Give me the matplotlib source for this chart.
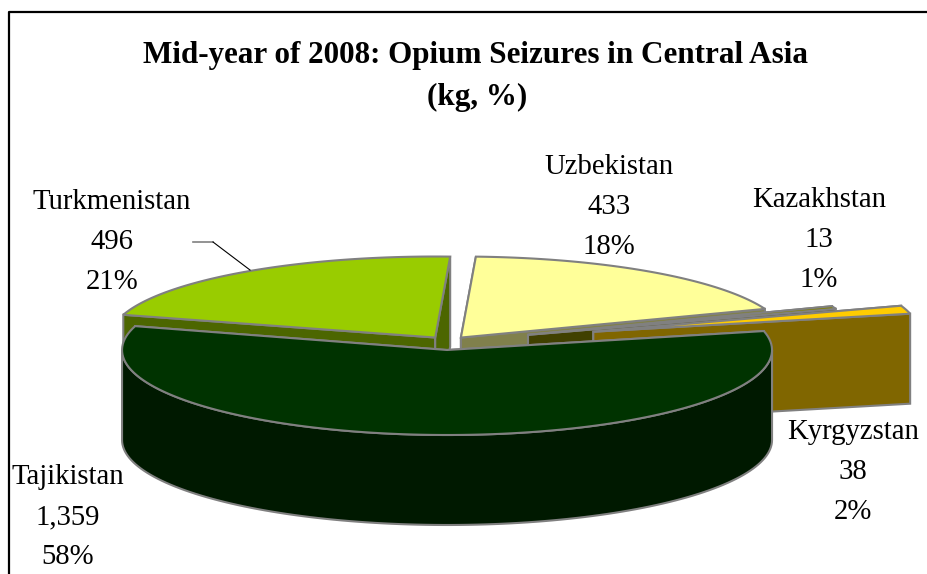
import matplotlib
matplotlib.use('Agg')
import matplotlib.pyplot as plt
from matplotlib.patches import Polygon
import numpy as np

plt.rcParams['font.family'] = ['Liberation Serif', 'DejaVu Serif']

countries = ['Turkmenistan', 'Uzbekistan', 'Kazakhstan', 'Kyrgyzstan', 'Tajikistan']
seizures = [496, 433, 13, 38, 1359]
percents = ['21%', '18%', '1%', '2%', '58%']

top_colors = ['#99CC00', '#FFFF99', '#808000', '#FFCC00', '#003300']
wall_colors = ['#4C6600', '#80804C', '#404000', '#806600', '#001900']
explode = [22, 22, 85, 151, 32]
radius_y = [81, 81, 81, 81, 85]

label_pos = [(112, 202), (609, 167), (819, 200), (853, 432), (68, 477)]

START = -73.7
CX, CY = 448, 342
RX, DEPTH = 325, 90
TILT = 0.25
EDGE = '#808080'


def on_rim(cx, cy, ry, deg):
    rad = np.radians(deg)
    return cx + RX * np.sin(rad), cy - ry * np.cos(rad)


def draw_slice(ax, start, end, push, ry, top, wall):
    mid = np.radians((start + end) / 2)
    cx = CX + push * np.sin(mid)
    cy = CY - push * np.cos(mid) * TILT
    angles = np.linspace(start, end, 120)
    rim = [on_rim(cx, cy, ry, a) for a in angles]

    # cut faces first, the top goes over them
    for a in (start, end):
        x, y = on_rim(cx, cy, ry, a)
        ax.add_patch(Polygon([(cx, cy), (x, y), (x, y + DEPTH), (cx, cy + DEPTH)],
                             fc=wall, ec=EDGE, lw=1.5))

    # outer wall, only the near part of the rim shows
    lo, hi = max(start, 90), min(end, 270)
    if lo < hi:
        front = [on_rim(cx, cy, ry, a) for a in np.linspace(lo, hi, 120)]
        low = [(x, y + DEPTH) for x, y in front[::-1]]
        ax.add_patch(Polygon(front + low, fc=wall, ec=EDGE, lw=1.5))

    ax.add_patch(Polygon([(cx, cy)] + rim, fc=top, ec=EDGE, lw=1.5))


fig = plt.figure(figsize=(9.27, 5.74), dpi=100)
ax = fig.add_axes([0, 0, 1, 1])
ax.set_xlim(0, 927)
ax.set_ylim(574, 0)
ax.axis('off')

# frame, only left and top are in the picture
ax.plot([9.5, 9.5, 927], [574, 12, 12], color='black', lw=1.6)

total = sum(seizures)
angle = START
for i, value in enumerate(seizures):
    sweep = 360 * value / total
    draw_slice(ax, angle, angle + sweep, explode[i], radius_y[i], top_colors[i], wall_colors[i])
    angle += sweep

# leader for Turkmenistan
ax.plot([193, 213], [242, 242], color=EDGE, lw=1.2)
ax.plot([213, 250], [242, 270], color='black', lw=0.8)

ax.text(476, 63, 'Mid-year of 2008: Opium Seizures in Central Asia',
        ha='center', va='baseline', fontsize=22.4, fontweight='bold')
ax.text(477, 105, '(kg, %)', ha='center', va='baseline', fontsize=22.4, fontweight='bold')

for i, name in enumerate(countries):
    x, y = label_pos[i]
    ax.text(x, y, name, ha='center', va='center', fontsize=20.7)
    ax.text(x, y + 40, f'{seizures[i]:,}', ha='center', va='center', fontsize=20.7)
    ax.text(x, y + 80, percents[i], ha='center', va='center', fontsize=20.7)

fig.savefig('out.png', dpi=100)
